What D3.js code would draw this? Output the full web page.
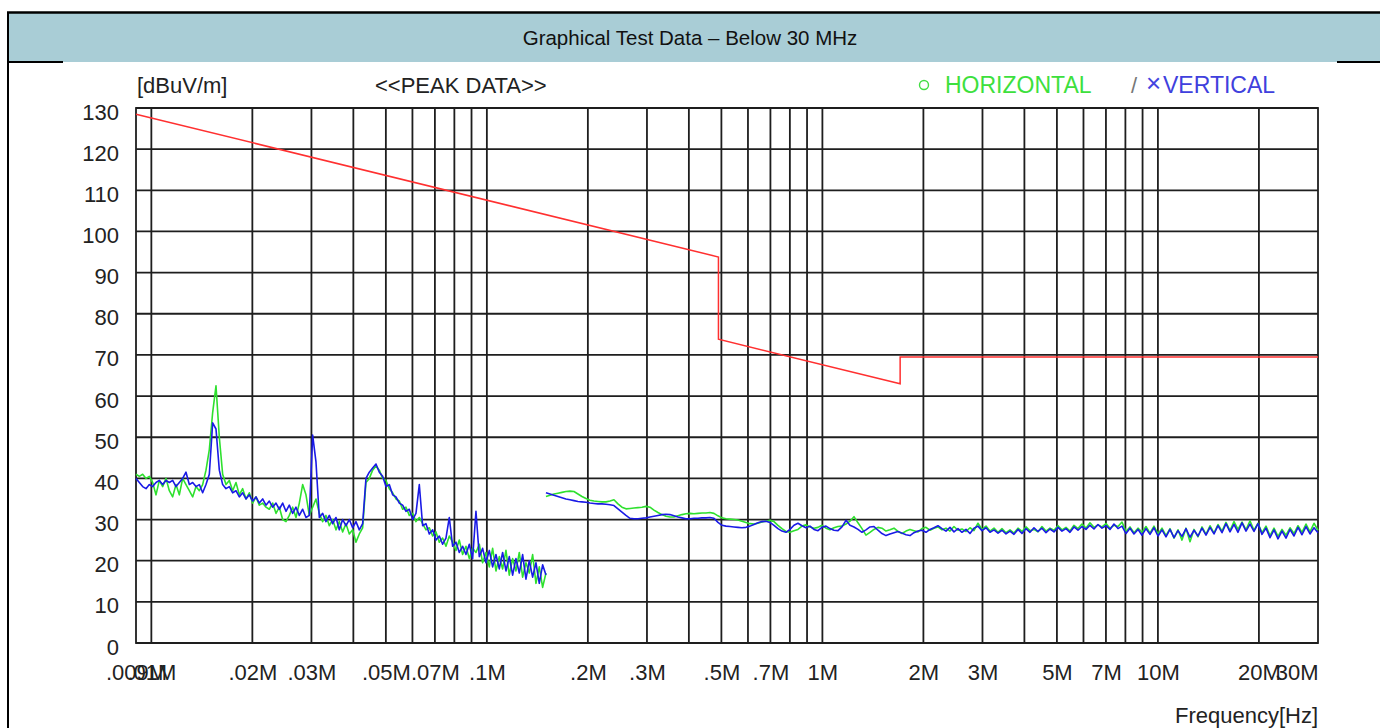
<!DOCTYPE html>
<html><head><meta charset="utf-8">
<script src="https://cdn.jsdelivr.net/npm/d3@7"></script>
<style>
body{margin:0;background:#fff}
svg{display:block}
text{font-family:"Liberation Sans",Arial,sans-serif}
</style>
</head><body>
<svg id="c" width="1380" height="728"></svg>
<script>
const titleText = "Graphical Test Data – Below 30 MHz";
const unitLabel = "[dBuV/m]";
const modeLabel = "<<PEAK DATA>>";
const xAxisTitle = "Frequency[Hz]";
const seriesNames = ["HORIZONTAL", "VERTICAL"];

const yTicks = [0,10,20,30,40,50,60,70,80,90,100,110,120,130];
const xTickValues = [0.009,0.01,0.02,0.03,0.05,0.07,0.1,0.2,0.3,0.5,0.7,1,2,3,5,7,10,20,30];
const xTickLabels = [".009M",".01M",".02M",".03M",".05M",".07M",".1M",".2M",".3M",".5M",".7M","1M","2M","3M","5M","7M","10M","20M","30M"];
const gridFreqs = [0.01,0.02,0.03,0.04,0.05,0.06,0.07,0.08,0.09,
  0.1,0.2,0.3,0.4,0.5,0.6,0.7,0.8,0.9,1,2,3,4,5,6,7,8,9,10,20];

// sweep bands (MHz), points evenly spaced on the log axis
const band1 = [0.009, 0.15];
const band2 = [0.15, 30];

const horizBand1 = [
 41,40.5,41,40,40.5,39,36,39.5,38,40,
 37,35.5,38.5,36,40,38.5,37,35.5,38,37,
 38.5,42,47,56,62.5,50,41,38.5,39.5,37,
 39,36,37.5,35,36.5,34,35.5,33.5,34,33,
 32.5,34,31.5,33,30,29.5,31,33,30.5,34,
 38.5,36,31,33,35,31.5,29.5,31,28.5,30,
 27.5,29.5,27,29,26.5,27.5,24.5,26.5,28,39,
 40,42,43,42,40,39.5,37.5,36.5,35,34.5,
 32.5,33,31,31.5,29.5,30.5,29,27.5,28,26,
 27,24.5,25.5,23.5,26,24.5,22.5,25,21.5,23.5,
 20.5,23,22,24,19.5,22,18.5,23,17.5,21,
 18,22.5,16.5,20.5,17.5,22,16,19.5,17,21.5,
 14.5,18.5,13.5,17];
const vertBand1 = [
 40,39,38,37.5,38.5,38,39,39.5,38.5,39.5,
 39,39.5,38,39,40,41.5,38.5,39,38,38.5,
 36.5,38.5,41,53.5,52,42,38.5,37.5,38,36.5,
 37,35.5,36.5,35,36,34.5,35.5,34,35,33.5,
 34.5,33,34,32.5,34,32,33.5,31.5,33,31,
 32.5,30.5,31,50.5,44,30.5,31.5,29.5,31,29,
 30.5,27.5,30,28.5,30,28,29.5,27.5,29,40,
 41.5,42.5,43.5,41.5,40.5,38,38.5,36,35.5,34,
 33.5,32,32.5,30,31.5,38.5,28.5,29,26.5,27.5,
 25,26,24,25.5,30.5,23.5,24.5,22,23.5,21.5,
 24,20.5,32,21,23,19.5,22.5,18.5,21.5,18,
 22,17.5,21,16.5,20.5,17,21.5,15.5,20,16,
 19.5,14.5,19,16.5];
const horizBand2 = [
 35.6,35.9,36.2,36.4,36.6,36.8,36.9,36.8,36.2,35.6,
 35.1,34.7,34.5,34.4,34.3,34.3,34.5,34.8,33.8,33.0,
 32.6,32.7,32.8,32.9,33.0,33.2,33.0,32.3,31.7,31.2,
 30.8,30.6,30.6,30.9,31.2,31.4,31.5,31.4,31.5,31.6,
 31.6,31.7,31.5,30.9,30.4,30.2,30.1,30.0,29.9,29.6,
 29.3,29.0,28.9,29.1,29.4,29.6,29.8,29.5,28.6,27.8,
 27.1,26.9,27.3,27.6,28.4,28.7,28.2,27.9,28.1,28.6,
 27.9,27.5,28.0,28.3,28.4,28.9,29.6,30.7,29.2,27.8,
 26.2,26.9,27.6,28.1,27.9,27.2,27.5,27.9,27.1,26.6,
 27.2,27.6,27.3,27.0,27.8,28.1,27.4,27.9,28.2,27.5,
 27.9,27.2,28.3,27.4,27.7,27.1,28.0,27.3,29.1,27.6,
 28.4,27.2,27.9,26.9,27.8,26.8,27.5,26.7,27.9,27.1,
 28.2,27.3,27.6,27.0,28.3,27.2,27.9,27.4,28.5,27.5,
 28.1,27.2,28.6,27.8,28.9,27.9,29.2,28.1,28.7,28.2,
 29.0,27.9,28.6,28.3,29.4,27.1,28.2,26.8,27.9,26.9,
 28.3,26.7,28.4,26.5,27.9,26.1,27.8,25.5,27.5,25.0,
 27.9,24.6,27.6,25.8,28.2,26.4,28.5,26.7,28.8,27.2,
 29.3,27.3,29.5,27.6,29.4,27.5,29.7,27.4,29.1,26.8,
 28.4,26.1,27.9,25.9,27.6,26.2,28.0,26.6,28.5,26.9,
 28.9,27.0,29.1,27.4];
const vertBand2 = [
 36.5,36.2,35.9,35.6,35.3,35.0,34.8,34.6,34.4,34.3,
 34.2,34.0,33.9,33.8,33.8,33.7,33.6,33.4,32.6,31.8,
 31.0,30.3,30.2,30.2,30.3,30.4,30.6,30.8,31.0,31.2,
 31.3,31.2,30.9,30.6,30.4,30.2,30.2,30.3,30.3,30.4,
 30.4,30.5,30.3,29.3,28.6,28.4,28.3,28.2,28.1,28.0,
 28.1,28.4,28.8,29.2,29.5,29.6,29.3,28.6,27.8,27.2,
 26.9,27.6,28.6,29.1,28.5,28.0,28.4,27.6,27.3,28.1,
 28.4,27.8,27.4,27.3,28.2,29.8,28.6,28.2,27.6,26.9,
 27.5,28.2,28.3,27.4,26.6,26.1,26.5,26.8,27.1,26.7,
 26.3,26.1,26.8,27.2,27.4,26.9,27.6,28.0,28.5,27.8,
 27.2,28.1,27.0,27.8,26.9,27.6,26.6,27.9,28.4,27.3,
 28.0,26.9,27.5,26.7,27.4,26.5,27.2,26.4,27.6,26.6,
 27.8,26.9,28.0,27.1,27.9,26.8,27.7,27.0,28.1,27.2,
 27.8,26.9,28.2,27.4,28.3,27.6,28.6,27.7,28.8,27.9,
 28.5,27.6,28.9,27.8,28.4,26.6,27.9,26.5,27.6,26.2,
 27.8,26.4,28.0,26.0,27.5,25.8,27.6,25.6,27.3,25.9,
 27.8,25.7,27.4,26.0,27.9,26.2,28.1,26.5,28.5,26.8,
 29.0,27.0,28.8,26.9,29.2,27.2,28.9,27.1,29.0,26.4,
 27.9,25.6,27.5,25.3,27.2,25.5,27.6,26.0,28.1,26.3,
 28.3,26.5,28.0,26.8];

// limit line (FCC 15.209 extrapolated to 3 m)
const limitFreq  = [0.009, 0.49, 0.49, 1.705, 1.705, 30];
const limitLevel = [128.5, 93.8, 73.8, 63.0, 69.5, 69.5];

const svg = d3.select("#c");
const font = '"Liberation Sans",Arial,sans-serif';

// frame + title band
svg.append("rect").attr("x",8).attr("y",13).attr("width",1380).attr("height",49).attr("fill","#a9cdd6");
svg.append("line").attr("x1",7).attr("x2",1380).attr("y1",12.5).attr("y2",12.5).attr("stroke","#000").attr("stroke-width",2.5);
svg.append("line").attr("x1",8).attr("x2",8).attr("y1",12).attr("y2",728).attr("stroke","#000").attr("stroke-width",2);
svg.append("line").attr("x1",8).attr("x2",63).attr("y1",62).attr("y2",62).attr("stroke","#000").attr("stroke-width",2);
svg.append("line").attr("x1",1337).attr("x2",1380).attr("y1",62).attr("y2",62).attr("stroke","#000").attr("stroke-width",2);
svg.append("text").attr("x",690).attr("y",45).attr("text-anchor","middle")
  .attr("font-size",20.5).attr("fill","#111").text(titleText);

const x = d3.scaleLog().domain([0.009, 30]).range([136, 1318]);
const y = d3.scaleLinear().domain([0, 130]).range([643, 108]);

const g = svg.append("g");
// grid
g.selectAll("line.v").data(gridFreqs).join("line").attr("class","v")
  .attr("x1",d=>x(d)).attr("x2",d=>x(d)).attr("y1",y(130)).attr("y2",y(0))
  .attr("stroke","#1e1e1e").attr("stroke-width",1.8);
g.selectAll("line.h").data(yTicks).join("line").attr("class","h")
  .attr("x1",x(0.009)).attr("x2",x(30)).attr("y1",d=>y(d)).attr("y2",d=>y(d))
  .attr("stroke","#1e1e1e").attr("stroke-width",1.8);
g.append("rect").attr("x",x(0.009)).attr("y",y(130)).attr("width",x(30)-x(0.009)).attr("height",y(0)-y(130))
  .attr("fill","none").attr("stroke","#1e1e1e").attr("stroke-width",1.8);

// axis labels
const yAxis = d3.axisLeft(y).tickValues(yTicks).tickSize(0).tickPadding(0);
const ya = svg.append("g").attr("transform","translate(119,0)").call(yAxis);
ya.select(".domain").remove();
ya.selectAll("text").attr("font-size",22).attr("font-family",font).attr("fill","#222").attr("dy","0.5em");

const xAxis = d3.axisBottom(x).tickValues(xTickValues).tickFormat((d,i)=>xTickLabels[i]).tickSize(0).tickPadding(0);
const xa = svg.append("g").attr("transform","translate(0,664)").call(xAxis);
xa.select(".domain").remove();
xa.selectAll("text").attr("font-size",22).attr("font-family",font).attr("fill","#222").attr("dy","0.72em");
// last label is kept inside the plot edge, as in the original
xa.selectAll(".tick").filter(d=>d===30).select("text").attr("text-anchor","end").attr("x",0);

svg.append("text").attr("x",137).attr("y",93).attr("font-size",22).attr("fill","#222").text(unitLabel);
svg.append("text").attr("x",375).attr("y",93).attr("font-size",22).attr("fill","#222").text(modeLabel);
svg.append("text").attr("x",1318).attr("y",723).attr("text-anchor","end").attr("font-size",22).attr("fill","#222").text(xAxisTitle);

// legend
svg.append("circle").attr("cx",924).attr("cy",85).attr("r",4.5).attr("fill","none").attr("stroke","#44dd44").attr("stroke-width",1.4);
svg.append("text").attr("x",945).attr("y",93).attr("font-size",23).attr("fill","#3de03d").text(seriesNames[0]);
svg.append("text").attr("x",1131).attr("y",93).attr("font-size",22).attr("fill","#777").text("/");
svg.append("text").attr("x",1146).attr("y",92).attr("font-size",26).attr("fill","#4545e0").text("×");
svg.append("text").attr("x",1163).attr("y",93).attr("font-size",23).attr("fill","#4040dd").text(seriesNames[1]);

// traces
function sweep(band, vals){
  const n = vals.length, l0 = Math.log10(band[0]), l1 = Math.log10(band[1]);
  return vals.map((v,i)=>({f: Math.pow(10, l0 + (l1-l0)*i/(n-1)), v}));
}
const line = d3.line().x(d=>x(d.f)).y(d=>y(d.v));
const traces = [
  {vals: horizBand1, band: band1, color:"#2ee02e"},
  {vals: horizBand2, band: band2, color:"#2ee02e"},
  {vals: vertBand1, band: band1, color:"#1a1ae6"},
  {vals: vertBand2, band: band2, color:"#1a1ae6"}
];
traces.forEach(t=>{
  svg.append("path").datum(sweep(t.band, t.vals)).attr("d", line)
    .attr("fill","none").attr("stroke", t.color).attr("stroke-width",1.6).attr("stroke-linejoin","round");
});

// limit line
const limitPts = limitFreq.map((f,i)=>({f, v: limitLevel[i]}));
svg.append("path").datum(limitPts).attr("d", line).attr("fill","none")
  .attr("stroke","#ff3030").attr("stroke-width",1.5);
</script>
</body></html>
